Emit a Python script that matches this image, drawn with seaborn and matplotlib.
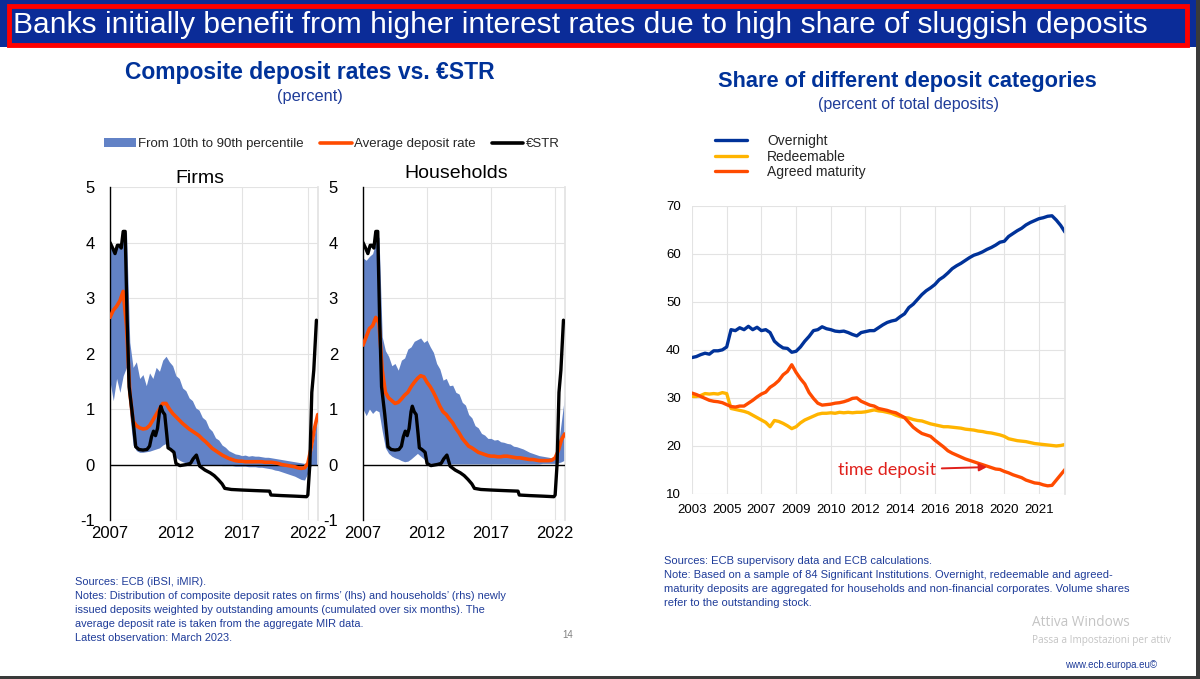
import matplotlib
matplotlib.use("Agg")
import matplotlib.pyplot as plt
import seaborn as sns
import numpy as np
from matplotlib.patches import Rectangle, Patch
from matplotlib.lines import Line2D
from matplotlib import font_manager as fm

# ---------------- data: left chart (percent) ----------------
band_years = [2007 + 0.25 * i for i in range(64)]

firms_upper = [3.95, 3.82, 3.92, 3.95, 4.10, 4.20, 2.20, 1.75, 1.85, 1.55, 1.62, 1.42,
               1.65, 1.55, 1.75, 1.68, 1.88, 1.95, 1.85, 1.78, 1.60, 1.55, 1.38, 1.33,
               1.20, 1.15, 1.02, 0.98, 0.85, 0.80, 0.66, 0.60, 0.48, 0.44, 0.35, 0.31,
               0.25, 0.22, 0.19, 0.18, 0.16, 0.17, 0.15, 0.16, 0.15, 0.15, 0.14, 0.13,
               0.13, 0.12, 0.11, 0.10, 0.09, 0.08, 0.07, 0.06, 0.05, 0.04, 0.03, 0.02,
               0.05, 0.20, 0.55, 0.95]
firms_lower = [1.50, 1.15, 1.55, 1.30, 1.60, 1.75, 0.90, 0.35, 0.25, 0.22, 0.22, 0.23,
               0.24, 0.26, 0.28, 0.30, 0.35, 0.38, 0.30, 0.20, 0.13, 0.08, 0.05, 0.03,
               0.02, 0.01, 0.01, 0.00, 0.00, 0.00, 0.00, -0.01, -0.01, -0.01, -0.02, -0.02,
               -0.02, -0.02, -0.03, -0.03, -0.03, -0.03, -0.04, -0.04, -0.04, -0.05, -0.05, -0.06,
               -0.07, -0.08, -0.10, -0.11, -0.13, -0.15, -0.17, -0.19, -0.21, -0.24, -0.27, -0.28,
               -0.15, -0.02, 0.00, 0.00]
firms_avg = [2.65, 2.78, 2.85, 2.95, 3.12, 2.50, 1.30, 0.78, 0.70, 0.66, 0.64, 0.65,
             0.70, 0.80, 0.90, 1.00, 1.10, 1.10, 1.00, 0.92, 0.86, 0.80, 0.74, 0.69,
             0.64, 0.60, 0.56, 0.52, 0.46, 0.41, 0.35, 0.29, 0.25, 0.21, 0.17, 0.14,
             0.11, 0.09, 0.07, 0.06, 0.06, 0.05, 0.05, 0.05, 0.05, 0.05, 0.05, 0.04,
             0.04, 0.04, 0.03, 0.02, 0.00, -0.01, -0.02, -0.03, -0.04, -0.06, -0.07, -0.06,
             0.02, 0.30, 0.65, 0.90]

hh_upper = [3.72, 3.68, 3.75, 3.80, 4.00, 4.10, 2.30, 2.05, 1.95, 1.78, 1.82, 1.70,
            1.88, 1.92, 2.08, 2.12, 2.22, 2.25, 2.28, 2.20, 2.24, 2.12, 2.02, 1.82,
            1.72, 1.52, 1.55, 1.42, 1.43, 1.30, 1.27, 1.12, 1.07, 0.90, 0.84, 0.70,
            0.66, 0.56, 0.53, 0.47, 0.47, 0.44, 0.45, 0.41, 0.40, 0.38, 0.37, 0.33,
            0.32, 0.30, 0.28, 0.25, 0.22, 0.20, 0.18, 0.16, 0.15, 0.14, 0.13, 0.12,
            0.15, 0.35, 0.80, 1.25]
hh_lower = [1.00, 0.88, 1.00, 0.92, 0.98, 0.95, 0.60, 0.30, 0.20, 0.15, 0.12, 0.10,
            0.07, 0.05, 0.06, 0.10, 0.15, 0.20, 0.15, 0.10, 0.05, 0.02, 0.02, 0.01,
            0.01, 0.01, 0.01, 0.01, 0.01, 0.01, 0.01, 0.01, 0.01, 0.01, 0.01, 0.01,
            0.01, 0.01, 0.01, 0.01, 0.01, 0.01, 0.01, 0.01, 0.01, 0.01, 0.01, 0.01,
            0.01, 0.01, 0.01, 0.01, 0.01, 0.01, 0.01, 0.01, 0.02, 0.02, 0.02, 0.02,
            0.02, 0.03, 0.05, 0.08]
hh_avg = [2.15, 2.30, 2.45, 2.50, 2.65, 2.55, 1.70, 1.30, 1.20, 1.15, 1.10, 1.12,
          1.18, 1.25, 1.30, 1.40, 1.48, 1.55, 1.60, 1.58, 1.48, 1.40, 1.30, 1.18,
          1.05, 0.95, 0.90, 0.82, 0.75, 0.65, 0.57, 0.47, 0.40, 0.33, 0.30, 0.26,
          0.22, 0.20, 0.18, 0.16, 0.15, 0.15, 0.14, 0.14, 0.15, 0.15, 0.14, 0.13,
          0.12, 0.12, 0.11, 0.10, 0.09, 0.09, 0.08, 0.07, 0.07, 0.07, 0.07, 0.08,
          0.12, 0.25, 0.45, 0.55]

estr_years = [2007.0, 2007.2, 2007.38, 2007.56, 2007.7, 2007.85, 2008.0, 2008.15,
              2008.3, 2008.45, 2008.7, 2008.95, 2009.2, 2009.5, 2009.8, 2010.0,
              2010.15, 2010.3, 2010.45, 2010.6, 2010.75, 2010.85, 2011.0, 2011.15,
              2011.3, 2011.4, 2011.6, 2011.85, 2012.0, 2012.3, 2012.8, 2013.1,
              2013.3, 2013.55, 2013.7, 2013.8, 2014.2, 2014.6, 2014.9, 2015.2,
              2015.5, 2015.7, 2016.2, 2017.0, 2018.0, 2019.1, 2019.2, 2020.0,
              2021.0, 2021.9, 2022.0, 2022.15, 2022.3, 2022.45, 2022.65]
estr = [4.00, 3.90, 3.80, 3.95, 3.95, 3.90, 4.20, 4.20,
        2.60, 1.40, 0.90, 0.32, 0.27, 0.26, 0.27, 0.33,
        0.50, 0.60, 0.52, 0.65, 0.95, 1.05, 0.95, 0.90,
        0.55, 0.30, 0.27, 0.22, 0.02, -0.02, 0.00, 0.02,
        0.10, 0.17, 0.05, -0.03, -0.10, -0.15, -0.20, -0.27,
        -0.35, -0.43, -0.45, -0.46, -0.47, -0.48, -0.55, -0.56,
        -0.57, -0.58, -0.55, 0.00, 1.30, 1.70, 2.60]

rate_yticks = [-1, 0, 1, 2, 3, 4, 5]
rate_xticks = [2007, 2012, 2017, 2022]

# ---------------- data: right chart (percent of total deposits) ----------------
share_period = list(range(87))
share_tick_periods = [0, 8, 16, 24, 32, 40, 48, 56, 64, 72, 80]
share_tick_labels = ["2003", "2005", "2007", "2009", "2010", "2012", "2014",
                     "2016", "2018", "2020", "2021"]
overnight = [38.4, 38.6, 39.0, 39.3, 39.1, 39.8, 39.8, 40.0, 40.6, 44.2,
             44.0, 44.6, 44.2, 44.9, 44.2, 44.7, 44.0, 44.2, 43.6, 41.8,
             41.0, 40.4, 40.3, 39.5, 39.7, 40.6, 41.8, 42.8, 44.0, 44.2,
             44.8, 44.4, 44.2, 43.9, 43.8, 43.9, 43.6, 43.2, 42.9, 43.6,
             43.8, 44.0, 44.0, 44.6, 45.2, 45.7, 46.0, 46.2, 46.9, 47.5,
             48.8, 49.5, 50.5, 51.5, 52.3, 52.9, 53.6, 54.6, 55.2, 56.0,
             56.9, 57.5, 58.0, 58.6, 59.2, 59.7, 60.0, 60.4, 60.9, 61.3,
             61.8, 62.4, 62.6, 63.6, 64.2, 64.8, 65.3, 66.0, 66.5, 66.9,
             67.3, 67.5, 67.8, 67.9, 67.0, 65.9, 64.5]
redeemable = [30.3, 30.3, 30.5, 30.9, 30.8, 30.9, 30.8, 31.1, 30.9, 27.8,
              27.6, 27.4, 27.2, 26.9, 26.4, 25.9, 25.4, 24.9, 24.0, 25.3,
              25.1, 24.7, 24.2, 23.6, 24.0, 24.8, 25.4, 25.8, 26.2, 26.6,
              26.8, 26.8, 26.9, 26.8, 27.0, 26.9, 27.0, 26.9, 27.0, 27.0,
              27.1, 27.3, 27.5, 27.3, 27.2, 27.0, 26.8, 26.4, 26.1, 25.9,
              25.8, 25.5, 25.3, 25.2, 24.9, 24.6, 24.4, 24.2, 24.0, 24.0,
              23.9, 23.8, 23.7, 23.5, 23.4, 23.3, 23.1, 23.0, 22.8, 22.7,
              22.5, 22.3, 22.0, 21.5, 21.3, 21.1, 21.0, 20.9, 20.7, 20.5,
              20.4, 20.3, 20.2, 20.1, 20.0, 20.1, 20.3]
agreed = [31.0, 30.7, 30.3, 29.9, 29.5, 29.3, 29.2, 29.0, 28.6, 28.2,
          28.1, 28.3, 28.3, 28.9, 29.5, 30.2, 30.8, 31.2, 32.2, 32.8,
          33.6, 34.8, 35.5, 36.9, 35.3, 34.0, 32.9, 31.1, 29.9, 28.9,
          28.5, 28.6, 28.7, 28.9, 29.0, 29.2, 29.5, 29.9, 30.0, 29.3,
          28.9, 28.5, 28.3, 27.8, 27.6, 27.4, 27.1, 26.9, 26.4, 25.9,
          24.9, 23.9, 23.2, 22.6, 22.3, 22.0, 21.2, 20.5, 19.8, 19.0,
          18.5, 18.1, 17.7, 17.3, 17.0, 16.7, 16.4, 16.1, 15.8, 15.5,
          15.2, 15.1, 14.7, 14.4, 14.0, 13.7, 13.4, 12.9, 12.6, 12.3,
          12.2, 11.9, 11.7, 11.8, 12.9, 14.0, 15.1]
share_yticks = [10, 20, 30, 40, 50, 60, 70]

# ---------------- style ----------------
sns.set_theme(style="white")
plt.rcParams["font.family"] = ["Liberation Sans", "DejaVu Sans"]

ECB_BLUE = "#003299"
TXT_BLUE = "#1f3c99"
BAND = "#6282c6"
ORANGE = "#ff4b00"
YELLOW = "#ffb400"
GRID = "#e3e3e3"

W, H = 1200, 679
fig = plt.figure(figsize=(12, 6.79), dpi=100)
fig.patch.set_facecolor("white")


def fx(px):
    return px / W


def fy(py):
    return 1 - py / H


# frame bits of the screenshot
fig.patches.append(Rectangle((0, fy(47)), fx(1196), 47 / H, transform=fig.transFigure,
                             facecolor="#0b2c98", edgecolor="none", zorder=0))
fig.patches.append(Rectangle((fx(9), fy(45)), fx(1178), 39 / H, transform=fig.transFigure,
                             facecolor="none", edgecolor="#ff0000", lw=3.5, zorder=1))
fig.patches.append(Rectangle((0, 0), 1, 3 / H, transform=fig.transFigure,
                             facecolor="#3a3a3a", edgecolor="none"))
fig.patches.append(Rectangle((fx(1196), 0), fx(4), 1, transform=fig.transFigure,
                             facecolor="#3a3a3a", edgecolor="none"))

names = {f.name for f in fm.fontManager.ttflist}
if "Liberation Sans Narrow" in names:
    banner_family, banner_size = ["Liberation Sans Narrow", "DejaVu Sans"], 26
else:
    banner_family, banner_size = ["Liberation Sans", "DejaVu Sans"], 21.6
fig.text(fx(13), fy(25), "Banks initially benefit from higher interest rates due to high share of sluggish deposits",
         color="white", fontsize=banner_size, family=banner_family, ha="left", va="center")

# ---------------- left chart ----------------
fig.text(fx(310), fy(73), "Composite deposit rates vs. €STR", color=ECB_BLUE, fontsize=16.5,
         fontweight="bold", ha="center", va="center")
fig.text(fx(310), fy(97), "(percent)", color=TXT_BLUE, fontsize=11.8, ha="center", va="center")

ax1 = fig.add_axes([fx(110), fy(520), 208 / W, 333 / H])
ax2 = fig.add_axes([fx(363), fy(520), 202 / W, 333 / H])


def rate_panel(ax, upper, lower, avg, ypad):
    ax.fill_between(band_years, lower, upper, color=BAND, lw=0, zorder=2)
    ax.axhline(0, color="black", lw=1.0, zorder=3)
    sns.lineplot(x=band_years, y=avg, ax=ax, color=ORANGE, lw=2.6, zorder=4)
    sns.lineplot(x=estr_years, y=estr, ax=ax, color="black", lw=2.4, zorder=5)
    ax.set_xlim(2007, 2022.77)
    ax.set_ylim(-1, 5)
    ax.set_yticks(rate_yticks)
    ax.set_yticklabels([str(v) for v in rate_yticks])
    ax.set_xticks(rate_xticks)
    ax.set_xticklabels([str(v) for v in rate_xticks])
    ax.grid(True, color=GRID, lw=0.8, zorder=0)
    ax.set_axisbelow(True)
    for s in ["top", "bottom"]:
        ax.spines[s].set_visible(False)
    ax.spines["right"].set_color(GRID)
    ax.spines["left"].set_color("black")
    ax.spines["left"].set_linewidth(1.0)
    ax.tick_params(axis="y", length=0, pad=ypad, labelsize=12, labelcolor="black")
    ax.tick_params(axis="x", length=0, pad=4, labelsize=12, labelcolor="black")
    ax.set_xlabel("")
    ax.set_ylabel("")
    ax.set_facecolor("white")


rate_panel(ax1, firms_upper, firms_lower, firms_avg, 11)
rate_panel(ax2, hh_upper, hh_lower, hh_avg, 18)

fig.text(fx(200), fy(179), "Firms", fontsize=14, ha="center", va="center", color="black")
fig.text(fx(456), fy(173), "Households", fontsize=14, ha="center", va="center", color="black")

left_handles = [Patch(facecolor=BAND, edgecolor="none"),
                Line2D([], [], color=ORANGE, lw=2.6),
                Line2D([], [], color="black", lw=2.6)]
fig.legend(left_handles, ["From 10th to 90th percentile", "Average deposit rate", "€STR"],
           ncol=3, loc="center", bbox_to_anchor=(fx(332), fy(144)), frameon=False,
           fontsize=9.5, handlelength=2.4, handletextpad=0.2, columnspacing=1.2,
           borderpad=0)

left_notes = ["Sources: ECB (iBSI, iMIR).",
              "Notes: Distribution of composite deposit rates on firms’ (lhs) and households’ (rhs) newly",
              "issued deposits weighted by outstanding amounts (cumulated over six months). The",
              "average deposit rate is taken from the aggregate MIR data.",
              "Latest observation: March 2023."]
for k, line in enumerate(left_notes):
    fig.text(fx(75), fy(582 + 14 * k), line, fontsize=7.95, color=TXT_BLUE, ha="left", va="center")
fig.text(fx(568), fy(635), "14", fontsize=7, color="#808080", ha="center", va="center")

# ---------------- right chart ----------------
fig.text(fx(907), fy(81), "Share of different deposit categories", color=ECB_BLUE, fontsize=15.7,
         fontweight="bold", ha="center", va="center")
fig.text(fx(908), fy(105), "(percent of total deposits)", color=TXT_BLUE, fontsize=11.5,
         ha="center", va="center")

ax3 = fig.add_axes([fx(692), fy(494), 373 / W, 288.3 / H])
sns.lineplot(x=share_period, y=overnight, ax=ax3, color=ECB_BLUE, lw=2.4, label="Overnight", legend=False)
sns.lineplot(x=share_period, y=redeemable, ax=ax3, color=YELLOW, lw=2.4, label="Redeemable", legend=False)
sns.lineplot(x=share_period, y=agreed, ax=ax3, color=ORANGE, lw=2.4, label="Agreed maturity", legend=False)
ax3.set_xlim(0, 86)
ax3.set_ylim(10, 70)
ax3.set_yticks(share_yticks)
ax3.set_yticklabels([str(v) for v in share_yticks])
ax3.set_xticks(share_tick_periods)
ax3.set_xticklabels(share_tick_labels)
ax3.grid(True, color=GRID, lw=0.8)
ax3.set_axisbelow(True)
for s in ["top", "bottom", "left"]:
    ax3.spines[s].set_visible(False)
ax3.spines["right"].set_color(GRID)
ax3.tick_params(axis="y", length=0, pad=8, labelsize=9.5, labelcolor="black")
ax3.tick_params(axis="x", length=0, pad=7, labelsize=9.5, labelcolor="black")
ax3.set_xlabel("")
ax3.set_ylabel("")

ax3.annotate("time deposit", xy=(68.0, 15.6), xytext=(56.2, 15.0), ha="right", va="center",
             fontsize=13, color="#e0201b", family=["Lato", "DejaVu Sans"],
             arrowprops=dict(arrowstyle="-|>", color="#e0201b", lw=1.4, mutation_scale=11,
                             shrinkA=2, shrinkB=0))

h3, l3 = ax3.get_legend_handles_labels()
fig.legend(h3, l3, loc="upper left", bbox_to_anchor=(fx(715), fy(134)), frameon=False,
           fontsize=10, handlelength=2.3, handletextpad=1.45, labelspacing=0.12, borderpad=0,
           borderaxespad=0)

right_notes = ["Sources: ECB supervisory data and ECB calculations.",
               "Note: Based on a sample of 84 Significant Institutions. Overnight, redeemable and agreed-",
               "maturity deposits are aggregated for households and non-financial corporates. Volume shares",
               "refer to the outstanding stock."]
for k, line in enumerate(right_notes):
    fig.text(fx(664), fy(561 + 14 * k), line, fontsize=8, color=TXT_BLUE, ha="left", va="center")

fig.text(fx(1032), fy(623), "Attiva Windows", fontsize=9.8, color="#c4c4c4", ha="left",
         va="center", family=["Open Sans", "DejaVu Sans"])
fig.text(fx(1032), fy(640), "Passa a Impostazioni per attiv", fontsize=7.2, color="#c4c4c4",
         ha="left", va="center", family=["Open Sans", "DejaVu Sans"])
fig.text(fx(1157), fy(665), "www.ecb.europa.eu©", fontsize=7, color=TXT_BLUE, ha="right", va="center")

fig.savefig("out.png", dpi=100)
